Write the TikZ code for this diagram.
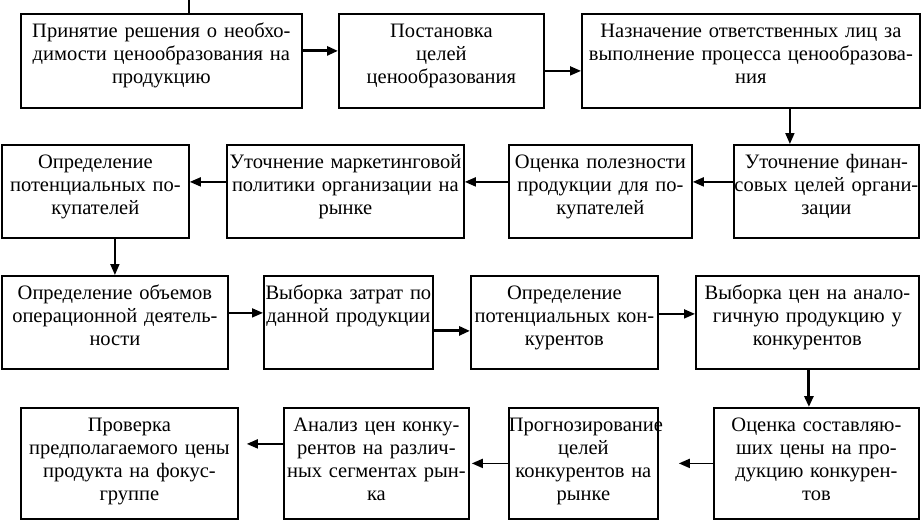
\documentclass[tikz,border=0pt]{standalone}
\usepackage{fontspec}
\setmainfont{Liberation Serif}
\usetikzlibrary{arrows.meta}

\begin{document}
\begin{tikzpicture}[x=1pt, y=-1pt, line width=1.8pt,
        font=\fontsize{20.5}{23}\selectfont,
        stage/.style={draw, anchor=north west, align=center, inner sep=0pt,
            text height=24pt, text depth=69pt},
        link/.style={-{Triangle[length=11pt,width=9pt]}},
        heavy/.style={link, line width=3pt}]
    \useasboundingbox (0,0) rectangle (921,520);
    \coordinate (entry) at (189,0);
    % first row
    \node[stage, text width=281pt, text depth=70pt] (decide) at (20,13)
        {Принятие решения о необхо-\\димости ценообразования на\\продукцию};
    \node[stage, text width=205pt, text depth=70pt] (goals) at (338,13)
        {Постановка\\целей\\ценообразования};
    \node[stage, text width=338pt, text depth=70pt] (assign) at (581,13)
        {Назначение ответственных лиц за\\выполнение процесса ценообразова-\\ния};
    % second row
    \node[stage, text width=187pt] (buyers) at (1,144)
        {Определение\\потенциальных по-\\купателей};
    \node[stage, text width=237pt] (policy) at (226,144)
        {Уточнение маркетинговой\\политики организации на\\рынке};
    \node[stage, text width=183pt] (utility) at (508,144)
        {Оценка полезности\\продукции для по-\\купателей};
    \node[stage, text width=185pt] (finance) at (733,144)
        {Уточнение финан-\\совых целей органи-\\зации};
    % third row
    \node[stage, text width=226pt] (volume) at (1,275)
        {Определение объемов\\операционной деятель-\\ности};
    \node[stage, text width=169pt] (costs) at (263,275)
        {Выборка затрат по\\данной продукции};
    \node[stage, text width=187pt] (rivals) at (470,275)
        {Определение\\потенциальных кон-\\курентов};
    \node[stage, text width=223pt] (prices) at (695,275)
        {Выборка цен на анало-\\гичную продукцию у\\конкурентов};
    % fourth row
    \node[stage, text width=205pt, text depth=87pt] (parts) at (713,407)
        {Оценка составляю-\\ших цены на про-\\дукцию конкурен-\\тов};
    \node[stage, text width=149pt, text depth=87pt] (forecast) at (508,407)
        {Прогнозирование\\целей\\конкурентов на\\рынке};
    \node[stage, text width=185pt, text depth=87pt] (analysis) at (283,407)
        {Анализ цен конку-\\рентов на различ-\\ных сегментах рын-\\ка};
    \node[stage, text width=217pt, text depth=87pt] (check) at (20,407)
        {Проверка\\предполагаемого цены\\продукта на фокус-\\группе};

    \draw (entry) -- (entry |- decide.north);
    \draw[heavy] ([yshift=10pt]decide.east) -- ([yshift=10pt]goals.west);
    \draw[link] ([yshift=-10pt]goals.east) -- ([yshift=-10pt]assign.west);
    \draw[link] ([xshift=39pt]assign.south) -- ([xshift=39pt]assign.south |- finance.north);
    \draw[link] ([yshift=9.5pt]finance.west) -- ([yshift=9.5pt]utility.east);
    \draw[link] ([yshift=9.5pt]utility.west) -- ([yshift=9.5pt]policy.east);
    \draw[link] ([yshift=9.5pt]policy.west) -- ([yshift=9.5pt]buyers.east);
    \draw[link] ([xshift=19.5pt]buyers.south) -- ([xshift=19.5pt]buyers.south |- volume.north);
    \draw[link] ([yshift=9.5pt]volume.east) -- ([yshift=9.5pt]costs.west);
    \draw[heavy] ([yshift=-8.5pt]costs.east) -- ([yshift=-8.5pt]rivals.west);
    \draw[link] ([yshift=8.5pt]rivals.east) -- ([yshift=8.5pt]prices.west);
    \draw[heavy] ([xshift=1.5pt]prices.south) -- ([xshift=1.5pt]prices.south |- parts.north);
    \draw[link, shorten >=20pt] (parts.west) -- (forecast.east);
    \draw[link, shorten >=2pt] (forecast.west) -- (analysis.east);
    \draw[link, shorten >=8pt] ([yshift=19.5pt]analysis.west) -- ([yshift=19.5pt]check.east);
\end{tikzpicture}
\end{document}
